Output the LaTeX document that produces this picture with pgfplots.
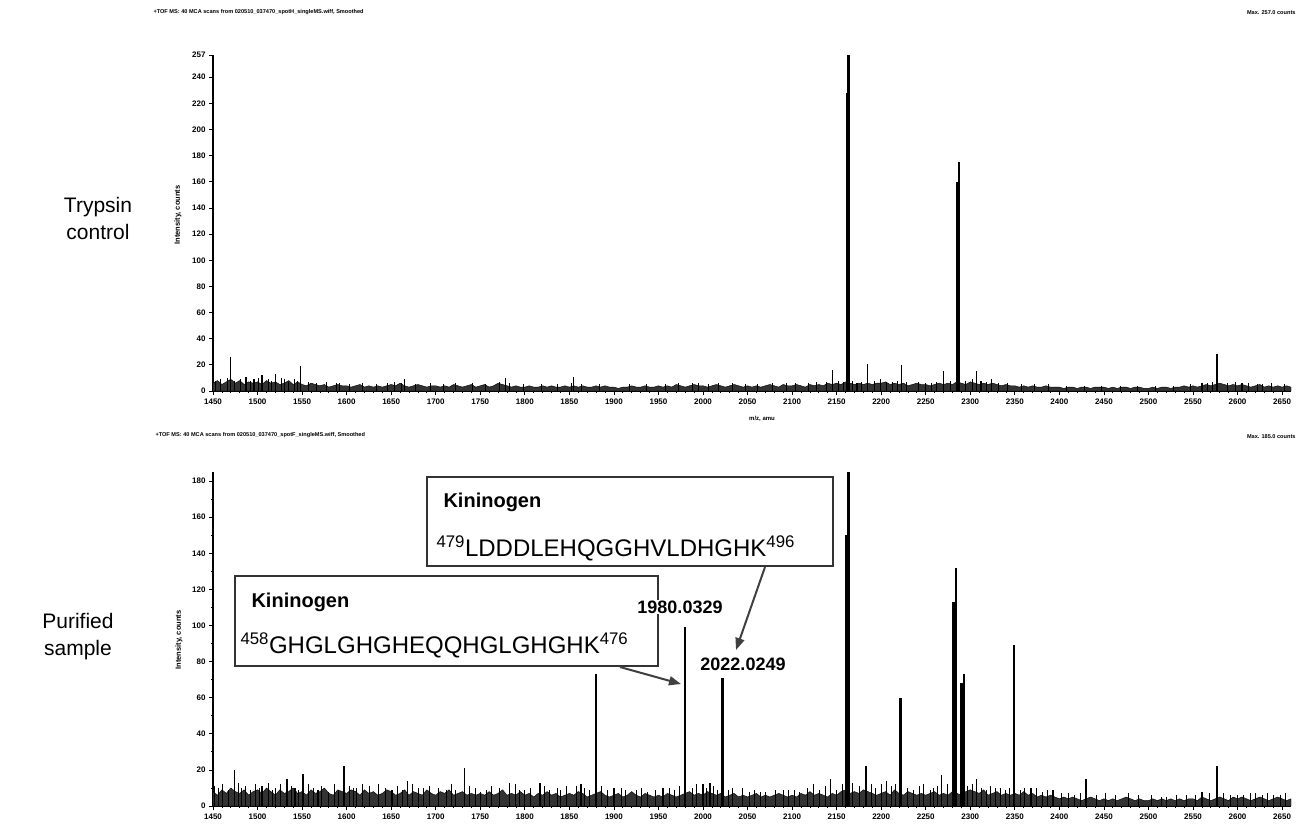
\documentclass[border=0pt]{standalone}
\usepackage{fontspec}
\setmainfont{Liberation Sans}
\usepackage{pgfplots}
\pgfplotsset{compat=1.18}
\usetikzlibrary{arrows.meta}
\begin{document}
\begin{tikzpicture}
\useasboundingbox (0,0) rectangle (1303pt,-827pt);
\pgfplotsset{specax/.style={scale only axis, width=1078pt, xmin=1450, xmax=2660, ymin=0,
  axis x line*=bottom, axis y line*=left, tick align=outside,
  major tick length=4pt, minor tick length=2pt,
  xtick={1450,1500,...,2650}, minor x tick num=4, minor y tick num=1,
  tick style={black, line width=0.8pt}, axis line style={black, line width=1.4pt},
  tick label style={font=\fontsize{8}{9}\selectfont\bfseries},
  /pgf/number format/assume math mode=true,
  /pgf/number format/set thousands separator={},
  every axis plot/.append style={line join=round}}}
%
% ---------------- top spectrum: trypsin control ----------------
\begin{axis}[specax, at={(213pt,-391pt)}, anchor=south west, height=336pt, ymax=257,
  ytick={0,20,...,240,257}]
\addplot[draw=black, fill=black!80, line width=0.4pt] coordinates {
(1450,6)(1455,8)(1460,5)(1465,7)(1470,9)(1475,6)(1480,8)(1485,5)(1490,7)(1495,6)
(1500,7)(1505,5)(1510,8)(1515,6)(1520,7)(1525,5)(1530,6)(1535,8)(1540,5)(1545,7)
(1550,5)(1555,4)(1560,6)(1565,5)(1570,4)(1575,5)(1580,3)(1585,4)(1590,5)(1595,4)
(1600,4)(1605,3)(1610,4)(1615,5)(1620,3)(1625,4)(1630,3)(1635,4)(1640,3)(1645,4)
(1650,5)(1655,4)(1660,6)(1665,4)(1670,3)(1675,4)(1680,5)(1685,4)(1690,3)(1695,4)
(1700,4)(1705,3)(1710,4)(1715,3)(1720,5)(1725,4)(1730,3)(1735,4)(1740,5)(1745,3)
(1750,4)(1755,5)(1760,3)(1765,4)(1770,6)(1775,5)(1780,4)(1785,3)(1790,4)(1795,3)
(1800,3)(1805,4)(1810,3)(1815,3)(1820,4)(1825,3)(1830,4)(1835,3)(1840,3)(1845,4)
(1850,3)(1855,4)(1860,3)(1865,4)(1870,3)(1875,3)(1880,4)(1885,3)(1890,4)(1895,3)
(1900,3)(1905,2)(1910,3)(1915,3)(1920,4)(1925,3)(1930,3)(1935,4)(1940,3)(1945,3)
(1950,4)(1955,3)(1960,4)(1965,3)(1970,5)(1975,4)(1980,3)(1985,4)(1990,5)(1995,4)
(2000,4)(2005,3)(2010,4)(2015,5)(2020,4)(2025,3)(2030,4)(2035,5)(2040,4)(2045,3)
(2050,4)(2055,3)(2060,4)(2065,3)(2070,4)(2075,5)(2080,4)(2085,3)(2090,5)(2095,4)
(2100,4)(2105,5)(2110,4)(2115,3)(2120,5)(2125,4)(2130,5)(2135,4)(2140,6)(2145,5)
(2150,6)(2155,5)(2160,7)(2165,6)(2170,5)(2175,6)(2180,5)(2185,6)(2190,5)(2195,6)
(2200,6)(2205,7)(2210,5)(2215,6)(2220,5)(2225,6)(2230,4)(2235,5)(2240,6)(2245,5)
(2250,5)(2255,4)(2260,5)(2265,6)(2270,5)(2275,6)(2280,5)(2285,7)(2290,6)(2295,5)
(2300,7)(2305,6)(2310,5)(2315,6)(2320,5)(2325,6)(2330,5)(2335,4)(2340,5)(2345,4)
(2350,4)(2355,3)(2360,4)(2365,3)(2370,4)(2375,3)(2380,3)(2385,4)(2390,3)(2395,3)
(2400,3)(2405,2)(2410,3)(2415,3)(2420,2)(2425,3)(2430,3)(2435,2)(2440,3)(2445,3)
(2450,3)(2455,2)(2460,3)(2465,2)(2470,3)(2475,3)(2480,2)(2485,3)(2490,3)(2495,2)
(2500,2)(2505,3)(2510,2)(2515,3)(2520,3)(2525,2)(2530,3)(2535,3)(2540,4)(2545,3)
(2550,4)(2555,3)(2560,4)(2565,5)(2570,4)(2575,5)(2580,6)(2585,5)(2590,4)(2595,5)
(2600,4)(2605,5)(2610,4)(2615,3)(2620,4)(2625,5)(2630,3)(2635,4)(2640,3)(2645,4)
(2650,3)(2655,4)(2660,3)} \closedcycle;
\addplot[ycomb, black, line width=0.7pt, mark=none] coordinates {
(1453,8)(1458,9)(1466,10)(1474,8)(1481,9)(1492,8)(1501,10)(1512,9)(1516,8)(1527,10)
(1541,9)(1545,8)(1557,7)(1566,6)(1577,7)(1588,6)(1603,5)(1618,6)(1633,5)(1646,6)
(1653,7)(1661,6)(1677,5)(1694,6)(1708,5)(1722,6)(1741,6)(1756,5)(1771,7)(1783,6)
(1798,5)(1818,5)(1837,5)(1852,6)(1863,5)(1884,5)(1917,5)(1936,5)(1958,5)(1972,6)
(1988,6)(2006,5)(2017,6)(2033,6)(2048,5)(2061,5)(2078,6)(2093,6)(2104,6)(2118,6)
(2127,7)(2138,7)(2152,8)(2157,7)(2168,8)(2178,7)(2192,8)(2212,7)(2218,8)(2228,7)
(2242,7)(2256,6)(2262,7)(2278,8)(2295,8)(2302,9)(2318,7)(2331,6)(2342,6)(2357,5)
(2372,5)(2388,5)(2408,4)(2428,4)(2447,4)(2468,4)(2488,4)(2508,4)(2528,4)(2547,5)
(2566,6)(2572,7)(2588,6)(2597,7)(2612,6)(2628,5)(2638,6)(2652,5)};
\addplot[ycomb, black, line width=1.3pt, mark=none] coordinates {
(1470,26)(1487,11)(1496,9)(1505,12)(1520,13)(1530,9)(1535,7)(1548,19)(1592,6)(1665,9)
(1778,10)(1855,11)(1995,6)(2145,16)(2173,6)(2185,21)(2199,9)(2206,7)(2223,20)(2250,6)
(2270,15)(2307,15)(2312,8)(2324,9)(2560,6)(2577,28)(2605,6)(2622,5)};
\addplot[ycomb, black, line width=2.6pt, mark=none] coordinates {
(2162,228)(2163.5,257)(2285,160)(2287.5,175)};
\end{axis}
%
% ---------------- bottom spectrum: purified sample ----------------
\begin{axis}[specax, at={(213pt,-806pt)}, anchor=south west, height=334pt, ymax=185,
  ytick={0,20,...,180}]
\addplot[draw=black, fill=black!80, line width=0.4pt] coordinates {
(1450,8)(1455,6)(1460,9)(1465,7)(1470,10)(1475,8)(1480,7)(1485,9)(1490,6)(1495,8)
(1500,9)(1505,7)(1510,10)(1515,8)(1520,6)(1525,9)(1530,7)(1535,8)(1540,10)(1545,7)
(1550,8)(1555,6)(1560,9)(1565,7)(1570,8)(1575,10)(1580,7)(1585,6)(1590,9)(1595,8)
(1600,7)(1605,9)(1610,8)(1615,6)(1620,9)(1625,7)(1630,8)(1635,6)(1640,7)(1645,9)
(1650,8)(1655,6)(1660,7)(1665,9)(1670,6)(1675,8)(1680,7)(1685,6)(1690,9)(1695,7)
(1700,6)(1705,8)(1710,7)(1715,9)(1720,6)(1725,7)(1730,8)(1735,6)(1740,7)(1745,6)
(1750,7)(1755,6)(1760,8)(1765,6)(1770,7)(1775,9)(1780,6)(1785,7)(1790,6)(1795,8)
(1800,6)(1805,7)(1810,5)(1815,7)(1820,6)(1825,8)(1830,6)(1835,7)(1840,5)(1845,6)
(1850,7)(1855,6)(1860,8)(1865,7)(1870,5)(1875,6)(1880,7)(1885,8)(1890,6)(1895,5)
(1900,6)(1905,7)(1910,5)(1915,6)(1920,8)(1925,6)(1930,5)(1935,7)(1940,6)(1945,5)
(1950,6)(1955,5)(1960,7)(1965,6)(1970,5)(1975,6)(1980,7)(1985,8)(1990,6)(1995,7)
(2000,6)(2005,8)(2010,7)(2015,6)(2020,7)(2025,5)(2030,6)(2035,7)(2040,5)(2045,6)
(2050,5)(2055,6)(2060,7)(2065,5)(2070,6)(2075,5)(2080,6)(2085,7)(2090,6)(2095,5)
(2100,6)(2105,5)(2110,7)(2115,6)(2120,8)(2125,6)(2130,7)(2135,6)(2140,5)(2145,7)
(2150,6)(2155,8)(2160,9)(2165,7)(2170,8)(2175,7)(2180,9)(2185,8)(2190,7)(2195,6)
(2200,7)(2205,8)(2210,6)(2215,9)(2220,7)(2225,6)(2230,8)(2235,7)(2240,6)(2245,7)
(2250,6)(2255,7)(2260,8)(2265,6)(2270,7)(2275,6)(2280,8)(2285,7)(2290,6)(2295,8)
(2300,9)(2305,8)(2310,7)(2315,9)(2320,6)(2325,7)(2330,8)(2335,6)(2340,7)(2345,6)
(2350,7)(2355,6)(2360,8)(2365,6)(2370,7)(2375,5)(2380,6)(2385,5)(2390,6)(2395,5)
(2400,4)(2405,5)(2410,4)(2415,5)(2420,4)(2425,3)(2430,4)(2435,5)(2440,4)(2445,3)
(2450,4)(2455,3)(2460,4)(2465,3)(2470,4)(2475,5)(2480,4)(2485,3)(2490,4)(2495,3)
(2500,3)(2505,4)(2510,3)(2515,4)(2520,3)(2525,4)(2530,3)(2535,4)(2540,3)(2545,4)
(2550,4)(2555,3)(2560,5)(2565,4)(2570,3)(2575,4)(2580,5)(2585,4)(2590,3)(2595,5)
(2600,4)(2605,5)(2610,4)(2615,3)(2620,4)(2625,5)(2630,4)(2635,3)(2640,4)(2645,5)
(2650,4)(2655,3)(2660,4)} \closedcycle;
\addplot[ycomb, black, line width=0.7pt, mark=none] coordinates {
(1452,11)(1461,12)(1467,9)(1478,13)(1486,11)(1498,12)(1502,10)(1512,13)(1517,9)(1526,12)
(1538,11)(1546,9)(1557,12)(1563,10)(1572,11)(1586,12)(1591,9)(1603,11)(1608,10)(1618,12)
(1626,11)(1643,10)(1657,11)(1662,9)(1674,12)(1681,10)(1693,11)(1703,10)(1717,12)(1722,9)
(1738,11)(1744,10)(1757,9)(1762,11)(1771,10)(1789,12)(1794,9)(1806,10)(1822,11)(1828,9)
(1836,10)(1847,11)(1867,10)(1872,9)(1886,11)(1893,9)(1908,10)(1913,9)(1931,10)(1937,8)
(1946,9)(1962,10)(1968,9)(1974,11)(1988,10)(1993,12)(2004,10)(2012,11)(2028,9)(2033,10)
(2052,8)(2058,9)(2064,8)(2081,9)(2102,9)(2108,8)(2117,10)(2124,12)(2131,9)(2137,11)
(2156,12)(2168,13)(2176,11)(2189,12)(2193,10)(2211,11)(2216,12)(2229,10)(2236,9)(2247,12)
(2259,10)(2263,11)(2274,12)(2297,11)(2302,12)(2312,10)(2322,11)(2334,10)(2339,9)(2344,10)
(2356,9)(2361,10)(2381,8)(2386,9)(2402,7)(2417,6)(2424,7)(2441,6)(2452,7)(2463,6)
(2477,7)(2489,6)(2503,6)(2514,5)(2531,6)(2542,6)(2553,6)(2568,7)(2584,7)(2592,6)
(2607,6)(2614,7)(2628,6)(2633,7)(2648,6)(2654,7)};
\addplot[ycomb, black, line width=1.3pt, mark=none] coordinates {
(1456,10)(1474,20)(1482,10)(1492,9)(1505,11)(1520,10)(1533,15)(1542,10)(1551,18)(1568,9)
(1580,8)(1597,22)(1611,10)(1636,12)(1651,9)(1668,14)(1686,10)(1712,9)(1732,21)(1750,8)
(1783,13)(1800,9)(1817,13)(1840,9)(1858,11)(1863,12)(1900,10)(1925,9)(1955,10)(2000,12)
(2008,13)(2016,9)(2044,10)(2070,8)(2090,9)(2096,9)(2143,15)(2150,9)(2183,22)(2200,12)
(2206,14)(2243,11)(2255,9)(2268,17)(2307,15)(2318,9)(2328,10)(2368,10)(2374,10)(2393,9)
(2410,7)(2430,15)(2520,5)(2560,8)(2600,6)(2620,7)(2640,6)};
\addplot[ycomb, black, line width=2.6pt, mark=none] coordinates {
(1880,73)(1980,99)(2022,71)(2161,150)(2163,185)(2222,60)(2281,113)(2284,132)(2290,68)
(2293,73)(2349,89)(2577,22)};
\end{axis}
%
% ---------------- texts ----------------
\node[anchor=west, font=\fontsize{5.6}{6}\selectfont\bfseries] at (150pt,-12pt)
  {+TOF MS: 40 MCA scans from 020510\_037470\_spotH\_singleMS.wiff, Smoothed};
\node[anchor=east, font=\fontsize{5.6}{6}\selectfont\bfseries] at (1299pt,-13pt)
  {Max. 257.0 counts};
\node[anchor=west, font=\fontsize{5.6}{6}\selectfont\bfseries] at (152pt,-435pt)
  {+TOF MS: 40 MCA scans from 020510\_037470\_spotF\_singleMS.wiff, Smoothed};
\node[anchor=east, font=\fontsize{5.6}{6}\selectfont\bfseries] at (1299pt,-437pt)
  {Max. 185.0 counts};
\node[font=\fontsize{6}{7}\selectfont\bfseries] at (762pt,-419pt) {m/z, amu};
\node[rotate=90, font=\fontsize{7.5}{8}\selectfont\bfseries] at (178pt,-215pt) {Intensity, counts};
\node[rotate=90, font=\fontsize{7.5}{8}\selectfont\bfseries] at (179pt,-640pt) {Intensity, counts};
\node[align=center, font=\fontsize{21}{27}\selectfont] at (98pt,-218pt) {Trypsin\\control};
\node[align=center, font=\fontsize{21}{27}\selectfont] at (78pt,-637pt) {Purified\\sample};
%
% ---------------- annotations ----------------
\draw[line width=1.6pt, black!80, fill=white] (235pt,-576pt) rectangle (658pt,-666pt);
\node[anchor=west, font=\fontsize{20}{22}\selectfont\bfseries] at (248pt,-602pt) {Kininogen};
\node[anchor=west, font=\fontsize{24}{26}\selectfont] at (237pt,-645pt)
  {\textsuperscript{458}GHGLGHGHEQQHGLGHGHK\textsuperscript{476}};
\draw[line width=1.6pt, black!80, fill=white] (427pt,-477pt) rectangle (833pt,-566pt);
\node[anchor=west, font=\fontsize{20}{22}\selectfont\bfseries] at (440pt,-502pt) {Kininogen};
\node[anchor=west, font=\fontsize{24}{26}\selectfont] at (433pt,-548pt)
  {\textsuperscript{479}LDDDLEHQGGHVLDHGHK\textsuperscript{496}};
\node[fill=white, inner sep=1pt, font=\fontsize{18}{20}\selectfont\bfseries] at (680pt,-607pt) {1980.0329};
\node[fill=white, inner sep=1pt, font=\fontsize{18}{20}\selectfont\bfseries] at (743pt,-664pt) {2022.0249};
\draw[-{Triangle[length=12pt,width=9pt]}, line width=2pt, black!75] (765pt,-567pt) -- (736pt,-650pt);
\draw[-{Triangle[length=12pt,width=9pt]}, line width=2pt, black!75] (620pt,-667pt) -- (681pt,-684pt);
\end{tikzpicture}
\end{document}
